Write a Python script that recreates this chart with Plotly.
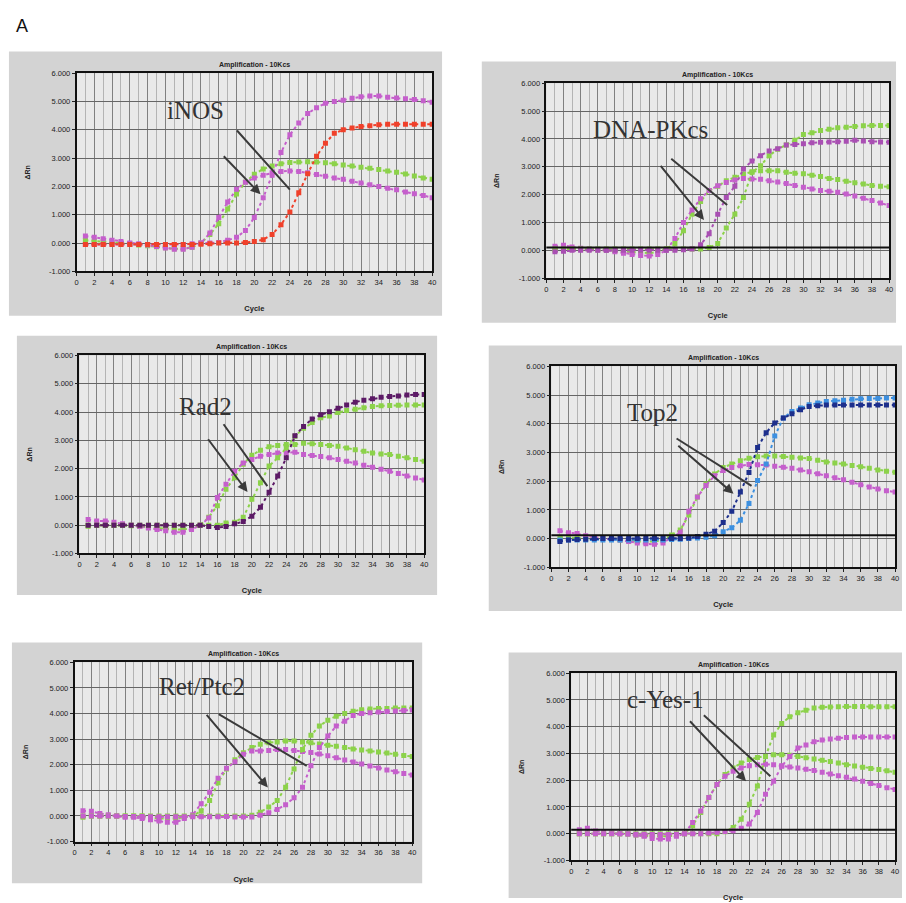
import plotly.graph_objects as go

# ---------------- data ----------------
cycles = list(range(1, 41))
x_tick_vals = list(range(0, 41, 2))
y_tick_vals = [-1, 0, 1, 2, 3, 4, 5, 6]
y_tick_text = ["-1.000", "0.000", "1.000", "2.000", "3.000", "4.000", "5.000", "6.000"]
gene_names = ["iNOS", "DNA-PKcs", "Rad2", "Top2", "Ret/Ptc2", "c-Yes-1"]
chart_title = "Amplification - 10Kcs"

inos_green_ref = [0.10,0.08,0.05,0.02,0.00,-0.03,-0.07,-0.10,-0.13,-0.17,-0.20,-0.20,-0.15,0.00,0.30,0.68,1.20,1.73,2.15,2.43,2.62,2.72,2.80,2.85,2.86,2.87,2.86,2.84,2.80,2.76,2.72,2.68,2.64,2.60,2.55,2.50,2.44,2.37,2.30,2.25]
inos_mag_ref = [0.25,0.20,0.15,0.10,0.05,0.00,-0.03,-0.07,-0.12,-0.18,-0.22,-0.22,-0.15,0.00,0.35,0.90,1.45,1.90,2.15,2.30,2.40,2.48,2.53,2.55,2.53,2.48,2.42,2.36,2.30,2.25,2.18,2.12,2.06,2.00,1.94,1.88,1.80,1.74,1.68,1.60]
inos_mag = [-0.05,-0.05,-0.05,-0.05,-0.05,-0.05,-0.05,-0.05,-0.06,-0.06,-0.06,-0.05,-0.03,0.00,0.00,0.02,0.10,0.20,0.44,0.90,1.60,2.40,3.20,3.83,4.24,4.58,4.78,4.94,5.00,5.05,5.12,5.17,5.20,5.20,5.15,5.13,5.10,5.07,5.03,4.98]
inos_red = [-0.05,-0.05,-0.05,-0.05,-0.05,-0.05,-0.05,-0.05,-0.05,-0.05,-0.05,-0.05,-0.05,-0.04,-0.03,0.00,0.00,0.00,0.02,0.05,0.12,0.30,0.65,1.10,1.78,2.45,3.07,3.53,3.88,4.00,4.07,4.12,4.15,4.18,4.20,4.20,4.20,4.20,4.20,4.20]

dna_green_ref = [0.00,0.05,0.05,0.05,0.03,0.02,0.00,-0.02,-0.05,-0.08,-0.10,-0.10,-0.05,0.05,0.25,0.70,1.30,1.75,2.15,2.30,2.50,2.62,2.74,2.82,2.86,2.86,2.86,2.80,2.77,2.75,2.70,2.65,2.58,2.54,2.48,2.43,2.38,2.33,2.30,2.28]
dna_mag_ref = [0.15,0.18,0.12,0.08,0.05,0.02,0.00,-0.05,-0.10,-0.15,-0.18,-0.20,-0.15,0.00,0.43,1.00,1.45,1.85,2.15,2.32,2.44,2.53,2.58,2.56,2.55,2.50,2.45,2.40,2.33,2.27,2.20,2.15,2.12,2.09,2.02,1.95,1.87,1.79,1.70,1.61]
dna_mag = [-0.05,-0.03,0.00,0.00,0.00,0.00,0.00,0.00,0.00,0.00,0.00,0.00,0.00,0.00,0.00,0.02,0.05,0.20,0.60,1.30,1.90,2.30,2.92,3.21,3.40,3.57,3.65,3.78,3.80,3.83,3.86,3.88,3.89,3.90,3.92,3.95,3.93,3.90,3.89,3.88]
dna_green = [0.05,0.05,0.05,0.05,0.05,0.05,0.05,0.05,0.05,0.05,0.05,0.05,0.05,0.05,0.05,0.05,0.05,0.05,0.10,0.25,0.80,1.30,1.90,2.80,3.04,3.40,3.63,3.78,3.95,4.16,4.22,4.30,4.35,4.40,4.42,4.45,4.47,4.48,4.48,4.48]

rad_green_ref = [-0.04,0.00,0.00,0.00,0.00,-0.02,-0.05,-0.08,-0.10,-0.12,-0.15,-0.15,-0.12,0.00,0.28,0.69,1.27,1.68,2.15,2.47,2.65,2.77,2.82,2.85,2.85,2.90,2.88,2.85,2.82,2.79,2.73,2.67,2.61,2.55,2.52,2.50,2.44,2.38,2.32,2.26]
rad_mag_ref = [0.20,0.15,0.15,0.10,0.05,0.00,-0.05,-0.10,-0.15,-0.20,-0.25,-0.25,-0.15,0.00,0.25,0.98,1.45,1.91,2.20,2.32,2.44,2.50,2.55,2.56,2.58,2.50,2.46,2.43,2.38,2.32,2.26,2.20,2.12,2.05,1.98,1.91,1.83,1.74,1.67,1.60]
rad_green = [0.00,0.00,0.00,0.00,0.00,0.00,0.00,0.00,0.00,0.00,0.00,0.00,0.00,0.00,0.00,0.00,0.08,0.10,0.28,0.92,1.50,2.09,2.38,2.73,3.14,3.43,3.63,3.80,3.86,3.98,4.05,4.10,4.15,4.20,4.22,4.23,4.24,4.25,4.25,4.25]
rad_purple = [0.00,0.00,0.00,0.00,0.00,0.00,0.00,0.00,0.00,0.00,0.00,0.00,0.00,0.00,-0.05,-0.08,-0.05,0.05,0.13,0.32,0.63,1.16,1.74,2.38,3.16,3.49,3.75,3.90,4.01,4.13,4.25,4.35,4.42,4.47,4.52,4.55,4.57,4.60,4.62,4.62]

top_mag_ref = [0.27,0.20,0.18,0.10,0.05,0.00,-0.02,-0.05,-0.10,-0.15,-0.18,-0.20,-0.15,0.05,0.20,0.95,1.45,1.85,2.19,2.37,2.48,2.54,2.58,2.57,2.56,2.52,2.49,2.45,2.39,2.33,2.26,2.19,2.12,2.05,1.96,1.88,1.80,1.73,1.67,1.62]
top_green_ref = [0.05,0.03,0.02,0.00,0.00,0.00,-0.02,-0.05,-0.08,-0.10,-0.10,-0.10,-0.05,0.13,0.30,0.82,1.45,1.90,2.25,2.48,2.60,2.71,2.80,2.85,2.88,2.88,2.86,2.83,2.81,2.79,2.73,2.67,2.63,2.60,2.55,2.50,2.45,2.39,2.35,2.31]
top_dark_blue = [-0.10,-0.05,-0.03,-0.02,0.00,0.00,0.00,0.00,0.00,0.00,0.00,0.00,0.00,0.00,0.00,0.02,0.07,0.15,0.26,0.56,0.95,1.62,2.30,3.17,3.69,4.03,4.20,4.35,4.49,4.60,4.63,4.65,4.65,4.65,4.65,4.65,4.65,4.65,4.65,4.65]
top_light_blue = [-0.05,-0.05,-0.05,-0.05,-0.05,-0.05,-0.05,-0.05,-0.05,-0.05,-0.05,-0.05,-0.05,-0.03,-0.02,0.00,0.02,0.05,0.10,0.24,0.38,0.64,1.22,2.02,2.60,3.57,4.20,4.43,4.55,4.66,4.72,4.78,4.80,4.82,4.85,4.87,4.88,4.88,4.90,4.90]

ret_green_ref = [-0.05,0.00,0.00,0.00,0.00,0.00,0.00,0.00,-0.05,-0.10,-0.10,-0.10,-0.05,0.00,0.20,0.60,1.30,1.83,2.20,2.47,2.67,2.80,2.86,2.89,2.93,2.93,2.89,2.86,2.81,2.76,2.72,2.67,2.62,2.58,2.54,2.50,2.46,2.41,2.36,2.32]
ret_mag_ref = [0.20,0.18,0.10,0.05,0.00,-0.05,-0.05,-0.10,-0.15,-0.20,-0.25,-0.25,-0.10,0.05,0.48,0.93,1.47,1.86,2.12,2.41,2.54,2.54,2.56,2.60,2.60,2.56,2.52,2.48,2.42,2.35,2.27,2.19,2.11,2.03,1.95,1.87,1.80,1.73,1.66,1.60]
ret_green = [0.00,0.00,0.00,0.00,0.00,0.00,0.00,0.00,0.00,0.00,0.00,0.00,0.00,0.00,0.00,0.00,0.00,0.00,0.00,0.00,0.03,0.15,0.35,0.60,1.12,1.83,2.60,3.15,3.51,3.74,3.90,4.00,4.09,4.15,4.18,4.20,4.20,4.22,4.22,4.22]
ret_mag = [0.00,0.00,0.00,0.00,0.00,-0.02,-0.02,-0.02,-0.03,-0.03,-0.03,-0.03,-0.03,-0.03,-0.03,-0.03,-0.03,-0.02,-0.04,-0.04,-0.04,0.03,0.13,0.25,0.44,0.71,1.12,1.96,2.67,3.12,3.51,3.70,3.92,4.00,4.03,4.06,4.08,4.10,4.12,4.14]

yes_green_ref = [0.00,0.00,0.00,0.00,0.00,0.00,0.00,-0.05,-0.08,-0.10,-0.10,-0.10,-0.05,0.00,0.30,0.79,1.35,1.84,2.21,2.46,2.64,2.77,2.85,2.89,2.95,2.95,2.93,2.89,2.84,2.79,2.75,2.70,2.64,2.58,2.53,2.48,2.44,2.40,2.35,2.30]
yes_mag_ref = [0.15,0.20,0.10,0.05,0.02,0.00,-0.02,-0.05,-0.10,-0.18,-0.20,-0.20,-0.10,0.00,0.42,0.85,1.35,1.84,2.15,2.33,2.46,2.54,2.58,2.60,2.58,2.54,2.49,2.46,2.41,2.36,2.30,2.23,2.17,2.11,2.04,1.96,1.88,1.80,1.72,1.65]
yes_green = [0.00,0.00,0.00,0.00,0.00,0.00,0.00,0.00,0.00,0.00,0.00,0.00,0.00,0.00,0.00,0.00,0.00,0.00,0.07,0.23,0.54,1.10,1.78,2.89,3.69,4.12,4.37,4.52,4.62,4.70,4.73,4.74,4.75,4.76,4.76,4.76,4.75,4.75,4.75,4.75]
yes_mag = [0.00,0.00,0.00,0.00,0.00,0.00,0.00,-0.02,-0.02,-0.03,-0.03,-0.03,-0.02,0.00,0.00,0.00,0.02,0.05,0.08,0.11,0.20,0.36,0.79,1.47,1.96,2.52,2.89,3.20,3.32,3.44,3.50,3.54,3.57,3.60,3.62,3.62,3.62,3.62,3.62,3.62]

thresholds = [None, 0.10, None, 0.12, None, 0.15]

# ---------------- styles ----------------
GREEN = "#8cd24a"
MAGENTA = "#c55fcc"
RED = "#f0402a"
PURPLE = "#5c1a66"
DBLUE = "#1d2f8c"
LBLUE = "#3d90e0"

panel_series = [
    [(inos_green_ref, GREEN), (inos_mag_ref, MAGENTA), (inos_mag, MAGENTA), (inos_red, RED)],
    [(dna_green_ref, GREEN), (dna_mag_ref, MAGENTA), (dna_green, GREEN), (dna_mag, "#a94fb3")],
    [(rad_green_ref, GREEN), (rad_mag_ref, MAGENTA), (rad_green, GREEN), (rad_purple, PURPLE)],
    [(top_green_ref, GREEN), (top_mag_ref, MAGENTA), (top_light_blue, LBLUE), (top_dark_blue, DBLUE)],
    [(ret_green_ref, GREEN), (ret_mag_ref, MAGENTA), (ret_green, GREEN), (ret_mag, MAGENTA)],
    [(yes_green_ref, GREEN), (yes_mag_ref, MAGENTA), (yes_green, GREEN), (yes_mag, MAGENTA)],
]

W, H = 906, 903
# plot areas in pixels: x0, x1, ytop, ybottom
plot_px = [(75, 433, 70, 270), (548, 893, 80, 277), (78, 425, 355, 555),
           (553, 899, 366, 569), (73, 413, 665, 846), (573, 899, 676, 865)]
frame_px = [(7, 443, 48, 315), (483, 900, 58, 322), (15, 438, 335, 597),
            (490, 906, 345, 613), (10, 423, 645, 888), (510, 906, 655, 903)]
# gene label position (cycle, value) and arrows (tail c, tail v, head c, head v, head style)
label_pos = [(13.4, 4.69), (12.1, 4.33), (14.6, 4.18), (11.8, 4.38), (15.1, 5.06), (11.7, 5.0)]
arrows = [
    [(16.4, 3.12, 20.7, 1.72, 2), (17.9, 4.03, 24.0, 1.89, 0)],
    [(13.2, 3.09, 18.4, 1.09, 2), (14.4, 3.33, 21.1, 1.63, 0)],
    [(14.8, 3.09, 19.5, 1.17, 2), (16.6, 3.62, 21.8, 1.38, 0)],
    [(14.6, 3.28, 21.2, 1.56, 2), (14.4, 3.52, 23.3, 1.84, 0)],
    [(15.5, 4.01, 22.9, 1.11, 2), (16.9, 4.01, 27.5, 1.96, 0)],
    [(14.5, 4.26, 21.6, 1.96, 2), (16.2, 4.48, 24.6, 2.15, 0)],
]

fig = go.Figure()
shapes = []
annotations = []
layout = {}

for i in range(6):
    n = i + 1
    xs = "x" if n == 1 else f"x{n}"
    ys = "y" if n == 1 else f"y{n}"
    x0, x1, yt, yb = plot_px[i]
    fx0, fx1, fyt, fyb = frame_px[i]

    shapes.append(dict(type="rect", xref="paper", yref="paper",
                       x0=fx0 / W, x1=fx1 / W, y0=1 - fyb / H, y1=1 - fyt / H,
                       fillcolor="#d3d3d3", line=dict(width=0), layer="below"))
    shapes.append(dict(type="rect", xref=f"{xs} domain", yref=f"{ys} domain",
                       x0=0, x1=1, y0=0, y1=1,
                       fillcolor="#e9e9e9", line=dict(width=0), layer="below"))

    for vals, col in panel_series[i]:
        fig.add_trace(go.Scatter(
            x=cycles, y=vals, mode="lines+markers", xaxis=xs, yaxis=ys,
            line=dict(color=col, width=2, dash="dot"),
            marker=dict(symbol="square", size=5, color=col),
            showlegend=False, hoverinfo="skip"))

    if thresholds[i] is not None:
        shapes.append(dict(type="line", xref=f"{xs} domain", yref=ys,
                           x0=0, x1=1, y0=thresholds[i], y1=thresholds[i],
                           line=dict(color="#111", width=2)))

    axkey = "xaxis" if n == 1 else f"xaxis{n}"
    aykey = "yaxis" if n == 1 else f"yaxis{n}"
    layout[axkey] = dict(
        domain=[x0 / W, x1 / W], anchor=ys, range=[0, 40],
        tickvals=x_tick_vals, ticks="outside", ticklen=3, tickcolor="#222",
        tickfont=dict(size=7.5, color="#222", family="Liberation Sans"),
        showgrid=True, gridcolor="#808080", gridwidth=1,
        minor=dict(tickvals=cycles, showgrid=True, gridcolor="#b4b4b4", gridwidth=1),
        showline=True, linecolor="#111", linewidth=1.5, mirror=True, zeroline=False,
        title=dict(text="<b>Cycle</b>", font=dict(size=7.5, color="#222", family="Liberation Sans"), standoff=20),
    )
    layout[aykey] = dict(
        domain=[1 - yb / H, 1 - yt / H], anchor=xs, range=[-1, 6],
        tickvals=y_tick_vals, ticktext=y_tick_text, ticks="outside", ticklen=3, tickcolor="#222",
        tickfont=dict(size=7.5, color="#222", family="Liberation Sans"),
        showgrid=True, gridcolor="#666666", gridwidth=1,
        showline=True, linecolor="#111", linewidth=1.5, mirror=True, zeroline=False,
        title=dict(text="<b>ΔRn</b>", font=dict(size=7, color="#222", family="Liberation Sans"), standoff=18),
    )

    annotations.append(dict(text=f"<b>{chart_title}</b>", xref=f"{xs} domain", yref=f"{ys} domain",
                            x=0.5, y=1, yanchor="bottom", yshift=2, showarrow=False,
                            font=dict(size=7, color="#222", family="Liberation Sans")))
    lc, lv = label_pos[i]
    annotations.append(dict(text=gene_names[i], xref=xs, yref=ys, x=lc, y=lv, showarrow=False,
                            font=dict(size=25, color="#333", family="Liberation Serif")))
    for tc, tv, hc, hv, head in arrows[i]:
        annotations.append(dict(text="", xref=xs, yref=ys, x=hc, y=hv, ax=tc, ay=tv,
                                axref=xs, ayref=ys, showarrow=True, arrowhead=head,
                                arrowsize=1, arrowwidth=2, arrowcolor="#3a3a3a"))

annotations.append(dict(text="A", xref="paper", yref="paper", x=12 / W, y=1 - 22 / H,
                        xanchor="left", yanchor="middle", showarrow=False,
                        font=dict(size=18, color="#111", family="Liberation Sans")))

fig.update_layout(
    width=W, height=H, margin=dict(l=0, r=0, t=0, b=0),
    paper_bgcolor="white", plot_bgcolor="rgba(0,0,0,0)",
    shapes=shapes, annotations=annotations, showlegend=False,
    **layout,
)

fig.write_html("out.html", config={"displayModeBar": False},
               post_script="document.body.style.margin='0';document.body.style.overflow='hidden';")
